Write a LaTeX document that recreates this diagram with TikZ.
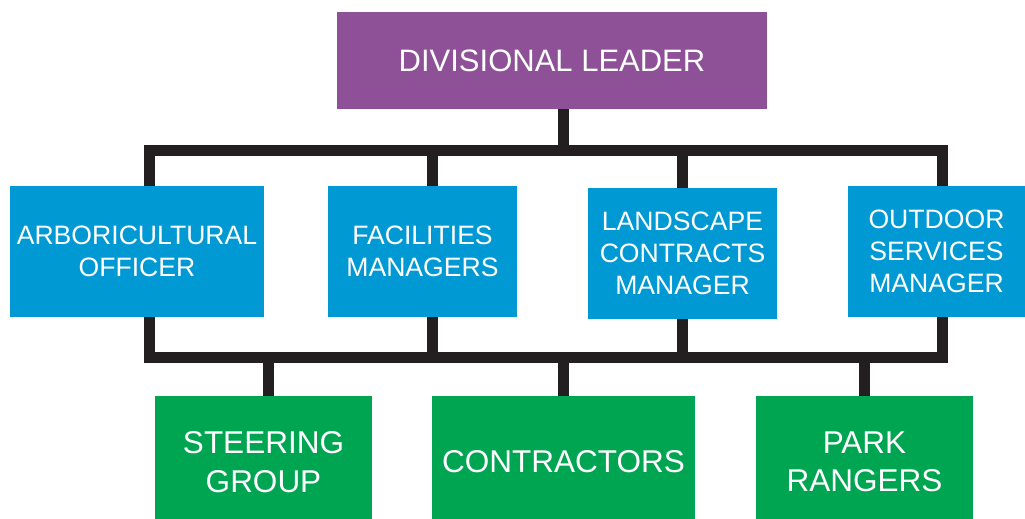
\documentclass[tikz,border=0pt]{standalone}
\usepackage{fontspec}
\setmainfont{Liberation Sans}
\definecolor{leadpurple}{RGB}{142,81,152}
\definecolor{officeblue}{RGB}{0,153,212}
\definecolor{groupgreen}{RGB}{0,165,81}
\definecolor{busblack}{RGB}{35,31,32}
\begin{document}
\begin{tikzpicture}[x=1pt,y=-1pt,line join=miter,
	box/.style={rectangle,inner sep=0pt,align=center,text=white},
	leadbox/.style={box,fill=leadpurple,minimum width=430pt,minimum height=97pt,font=\fontsize{31}{37}\selectfont},
	officebox/.style={box,fill=officeblue,minimum height=131pt,font=\fontsize{26.6}{32}\selectfont},
	groupbox/.style={box,fill=groupgreen,minimum height=132pt,font=\fontsize{31.5}{38.6}\selectfont},
	bus/.style={draw=busblack,line width=11pt}]
		\useasboundingbox (0,0) rectangle (1025,519);
		\def\ytop{150}\def\ybot{357}
		% boxes
		\node[leadbox] (lead) at (552,60.4) {DIVISIONAL LEADER};
		\node[officebox,minimum width=254pt] (a1) at (137,251.3) {ARBORICULTURAL\\OFFICER};
		\node[officebox,minimum width=189pt] (a2) at (422.5,251.3) {FACILITIES\\MANAGERS};
		\node[officebox,minimum width=189pt] (a3) at (682.5,253.3) {LANDSCAPE\\CONTRACTS\\MANAGER};
		\node[officebox,minimum width=177pt] (a4) at (936.5,251.3) {OUTDOOR\\SERVICES\\MANAGER};
		\node[groupbox,minimum width=217pt] (g1) at (263.5,462) {STEERING\\GROUP};
		\node[groupbox,minimum width=263pt] (g2) at (563.5,462) {CONTRACTORS};
		\node[groupbox,minimum width=217pt] (g3) at (864.5,462) {PARK\\RANGERS};
		% bus lines
		\coordinate (t0) at (563.5,\ytop);
		\foreach \n/\x in {1/149.5,2/432,3/682.5,4/942.5}{
			\coordinate (t\n) at (\x,\ytop);
			\coordinate (b\n) at (\x,\ybot);}
		\foreach \n/\x in {1/268.5,2/563.5,3/864}
			\coordinate (s\n) at (\x,\ybot);
		\draw[bus] (t0 |- lead.south)--(t0);
		\draw[bus] (t1 |- a1.north)--(t1)--(t4)--(t4 |- a4.north);
		\draw[bus] (t2)--(t2 |- a2.north) (t3)--(t3 |- a3.north);
		\draw[bus] (b1 |- a1.south)--(b1)--(b4)--(b4 |- a4.south);
		\draw[bus] (b2 |- a2.south)--(b2) (b3 |- a3.south)--(b3);
		\foreach \n in {1,2,3}
			\draw[bus] (s\n)--(s\n |- g\n.north);
		\end{tikzpicture}
\end{document}
